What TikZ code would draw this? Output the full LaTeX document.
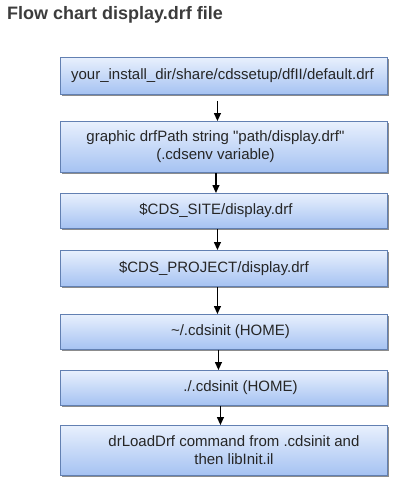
\documentclass[tikz,border=0pt]{standalone}
\usepackage{fontspec}
\setmainfont{Liberation Sans}
\usetikzlibrary{shadows,arrows.meta}
\definecolor{boxborder}{RGB}{98,128,178}
\definecolor{boxtop}{RGB}{232,240,253}
\definecolor{boxbot}{RGB}{165,194,242}
\definecolor{titlecol}{RGB}{60,60,60}
\tikzset{
  flowbox/.style={rectangle, draw=boxborder, line width=0.9pt, top color=boxtop, bottom color=boxbot,
    minimum width=327pt, inner sep=0pt, anchor=north west,
    drop shadow={shadow xshift=2pt, shadow yshift=-2pt, fill=black!45, opacity=1}},
  boxtext/.style={font=\fontsize{15}{18}\selectfont, text=black!85, align=center, inner sep=0pt},
  arr/.style={line width=1.2pt, -{Triangle[width=7pt,length=8pt]}}
}
\begin{document}
\begin{tikzpicture}[x=1pt,y=-1pt]
\useasboundingbox (0,0) rectangle (406,485);
\node[anchor=west, font=\bfseries\fontsize{18}{21}\selectfont, text=titlecol, inner sep=0pt] (title) at (7,15) {Flow chart display.drf file};

\node[flowbox, minimum height=37pt] (b1) at (60,57) {};
\node[flowbox, minimum height=51pt] (b2) at (60,121) {};
\node[flowbox, minimum height=35pt] (b3) at (60,193) {};
\node[flowbox, minimum height=36pt] (b4) at (60,250) {};
\node[flowbox, minimum height=35pt] (b5) at (60,314) {};
\node[flowbox, minimum height=35pt] (b6) at (60,370) {};
\node[flowbox, minimum height=50pt] (b7) at (60,425) {};

\node[boxtext] (t1) at ([xshift=-1.5pt]b1.center) {your\_install\_dir/share/cdssetup/dfII/default.drf};
\node[boxtext] (t2) at ([xshift=-8.5pt]b2.center) {graphic drfPath string \textquotedbl path/display.drf\textquotedbl\\(.cdsenv variable)};
\node[boxtext] (t3) at ([xshift=-8pt]b3.center) {\$CDS\_SITE/display.drf};
\node[boxtext] (t4) at ([xshift=-10pt]b4.center) {\$CDS\_PROJECT/display.drf};
\node[boxtext] (t5) at ([xshift=6.5pt]b5.center) {\textasciitilde/.cdsinit (HOME)};
\node[boxtext] (t6) at ([xshift=16.5pt]b6.center) {./.cdsinit (HOME)};
\node[boxtext] (t7) at ([xshift=10pt]b7.center) {drLoadDrf command from .cdsinit and\\then libInit.il};

\draw[arr, shorten <=6pt] ([xshift=-6.5pt]b1.south) -- ([xshift=-6.5pt]b2.north);
\draw[arr] ([xshift=-8pt]b2.south) -- ([xshift=-8pt]b3.north);
\draw[arr] ([xshift=-6.5pt]b3.south) -- ([xshift=-6.5pt]b4.north);
\draw[arr] ([xshift=-6.5pt]b4.south) -- ([xshift=-6.5pt]b5.north);
\draw[arr] ([xshift=-5.5pt]b5.south) -- ([xshift=-5.5pt]b6.north);
\draw[arr] ([xshift=-3.5pt]b6.south) -- ([xshift=-3.5pt]b7.north);
\end{tikzpicture}
\end{document}
